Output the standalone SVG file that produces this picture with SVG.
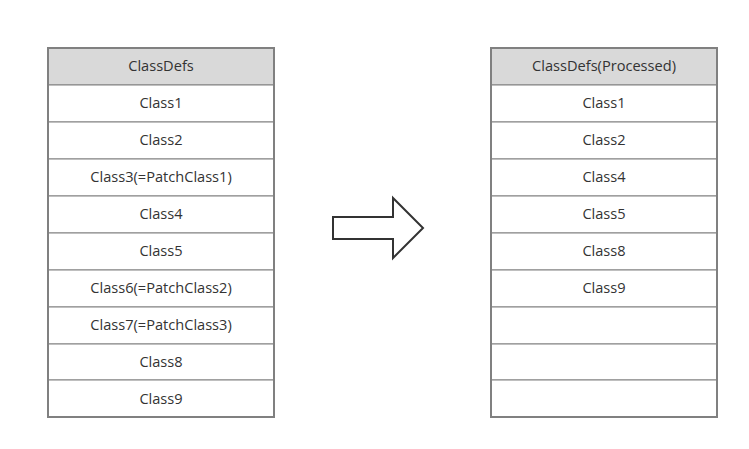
<svg xmlns="http://www.w3.org/2000/svg" width="749" height="449" viewBox="0 0 749 449">
<style>
.cell{fill:#ffffff;stroke:#808080;stroke-width:1}
.head{fill:#d9d9d9;stroke:#808080;stroke-width:1}
.frame{fill:none;stroke:#808080;stroke-width:2}
text{font-family:"Open Sans","Noto Sans","DejaVu Sans",sans-serif;font-size:14.6px;fill:#333333;text-anchor:middle;dominant-baseline:central}
</style>
<rect width="749" height="449" fill="#ffffff"/>
<g id="left-table">
<rect class="head" x="48" y="48" width="226" height="37"/>
<text x="161" y="65">ClassDefs</text>
<rect class="cell" x="48" y="85" width="226" height="37"/>
<text x="161" y="102">Class1</text>
<rect class="cell" x="48" y="122" width="226" height="37"/>
<text x="161" y="139">Class2</text>
<rect class="cell" x="48" y="159" width="226" height="37"/>
<text x="161" y="176">Class3(=PatchClass1)</text>
<rect class="cell" x="48" y="196" width="226" height="37"/>
<text x="161" y="213">Class4</text>
<rect class="cell" x="48" y="233" width="226" height="37"/>
<text x="161" y="250">Class5</text>
<rect class="cell" x="48" y="270" width="226" height="37"/>
<text x="161" y="287">Class6(=PatchClass2)</text>
<rect class="cell" x="48" y="307" width="226" height="37"/>
<text x="161" y="324">Class7(=PatchClass3)</text>
<rect class="cell" x="48" y="344" width="226" height="36"/>
<text x="161" y="361">Class8</text>
<rect class="cell" x="48" y="380" width="226" height="37"/>
<text x="161" y="398">Class9</text>
<rect class="frame" x="48" y="48" width="226" height="369"/>
</g>
<g id="right-table">
<rect class="head" x="491" y="48" width="226" height="37"/>
<text x="604" y="65">ClassDefs(Processed)</text>
<rect class="cell" x="491" y="85" width="226" height="37"/>
<text x="604" y="102">Class1</text>
<rect class="cell" x="491" y="122" width="226" height="37"/>
<text x="604" y="139">Class2</text>
<rect class="cell" x="491" y="159" width="226" height="37"/>
<text x="604" y="176">Class4</text>
<rect class="cell" x="491" y="196" width="226" height="37"/>
<text x="604" y="213">Class5</text>
<rect class="cell" x="491" y="233" width="226" height="37"/>
<text x="604" y="250">Class8</text>
<rect class="cell" x="491" y="270" width="226" height="37"/>
<text x="604" y="287">Class9</text>
<rect class="cell" x="491" y="307" width="226" height="37"/>
<rect class="cell" x="491" y="344" width="226" height="36"/>
<rect class="cell" x="491" y="380" width="226" height="37"/>
<rect class="frame" x="491" y="48" width="226" height="369"/>
</g>
<g id="connectors">
<path d="M333,217 L393,217 L393,198 L423,228 L393,258 L393,239 L333,239 Z" fill="#ffffff" stroke="#333333" stroke-width="2" stroke-linejoin="miter"/>
</g>
</svg>
